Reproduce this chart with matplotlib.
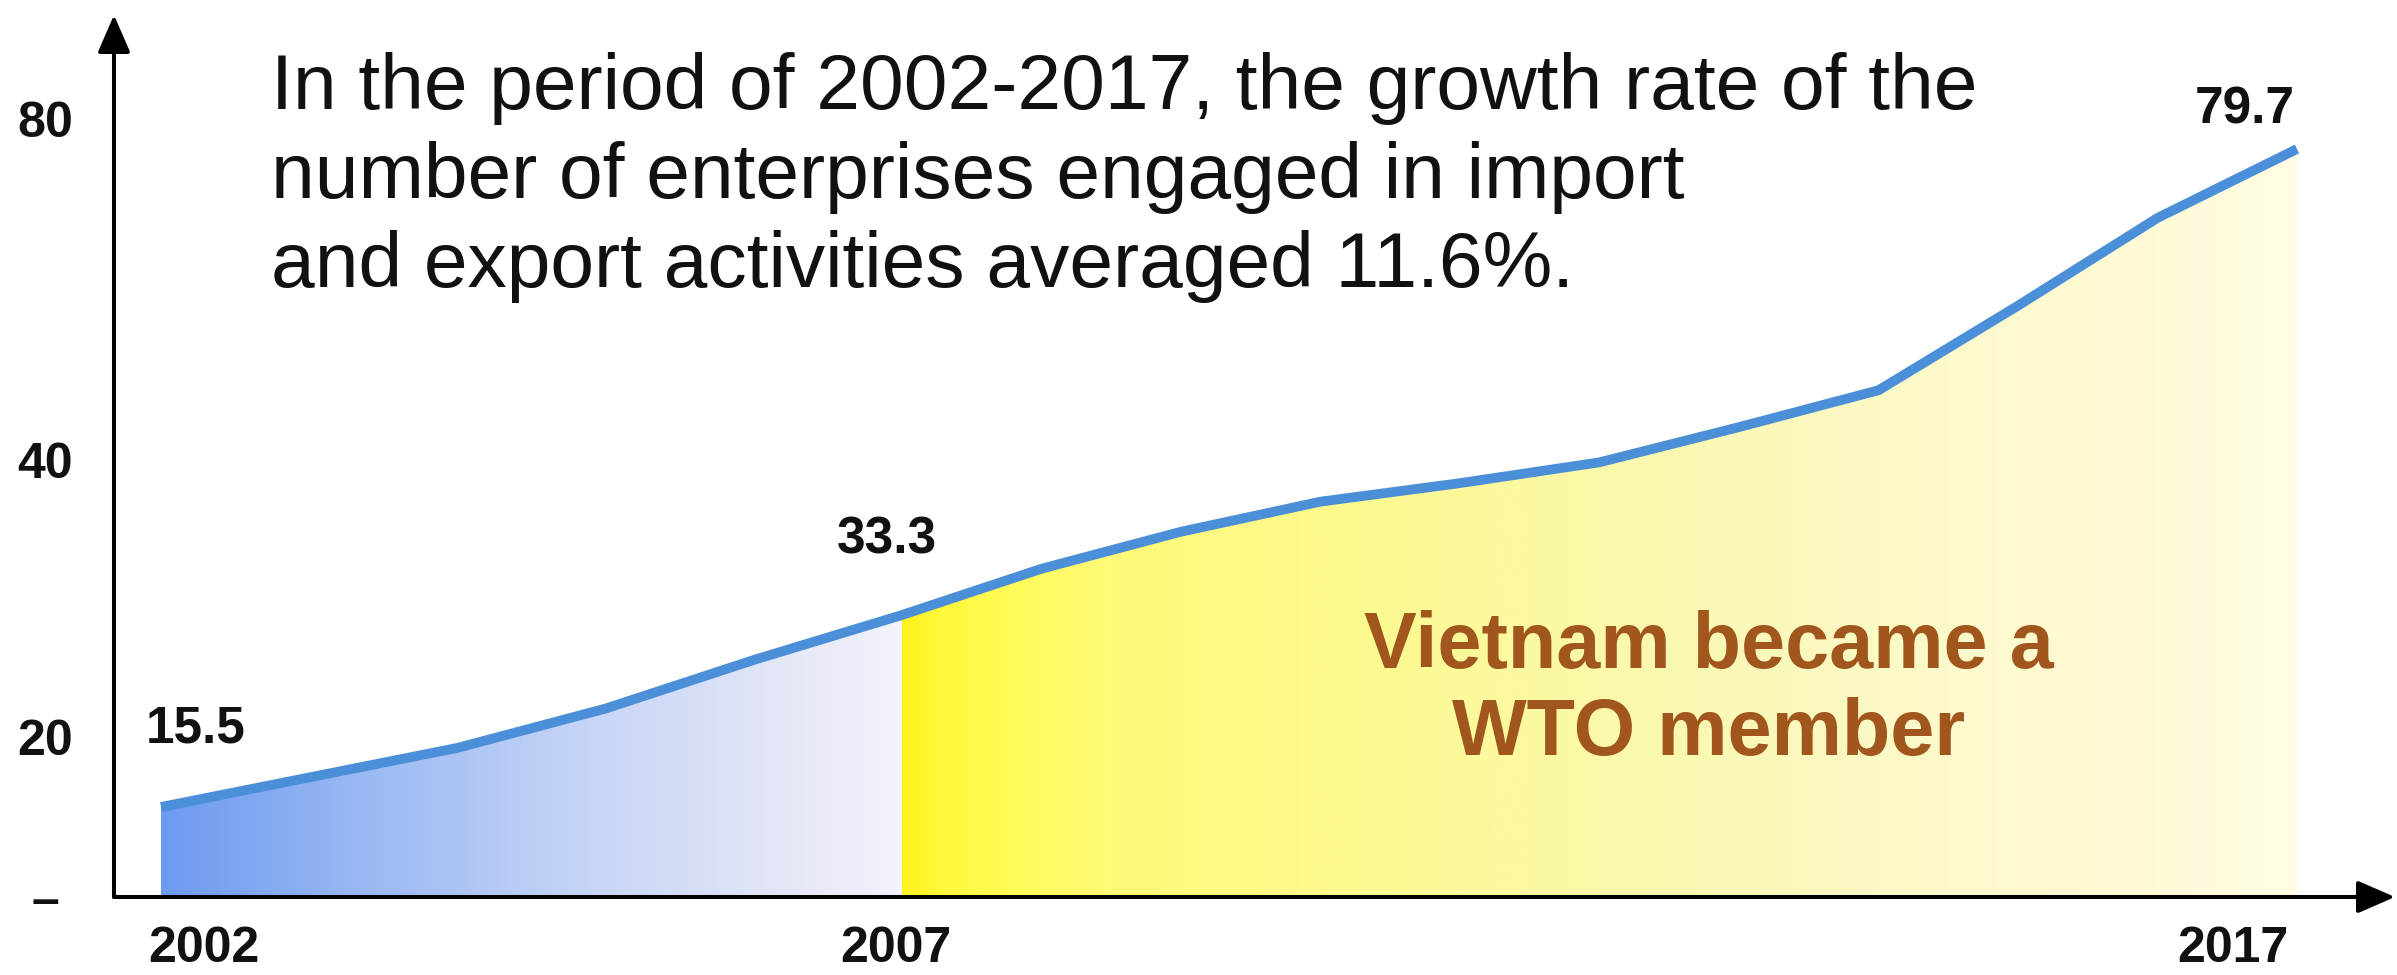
import numpy as np
import matplotlib
matplotlib.use("Agg")
import matplotlib.pyplot as plt
from matplotlib.transforms import ScaledTranslation
from matplotlib.colors import to_rgb

# ---------------- data ----------------
years = [2002, 2003, 2004, 2005, 2006, 2007, 2008, 2009, 2010,
         2011, 2012, 2013, 2014, 2015, 2016, 2017]
enterprises = [15.5, 17.4, 19.3, 23.1, 28.4, 33.3, 35.3, 36.9, 38.2,
               39.0, 39.9, 44.2, 48.9, 59.7, 70.9, 79.7]   # thousand enterprises
labeled_years = [2002, 2007, 2017]
labeled_values = [15.5, 33.3, 79.7]
x_ticks = [2002, 2007, 2017]
x_tick_labels = ["2002", "2007", "2017"]
y_ticks = [0, 20, 40, 80]
y_tick_labels = ["\u2013", "20", "40", "80"]
wto_year = 2007
title_lines = ["In the period of 2002-2017, the growth rate of the",
               "number of enterprises engaged in import",
               "and export activities averaged 11.6%."]
wto_lines = ["Vietnam became a", "WTO member"]

# ---------------- schematic axis scales (piecewise, as drawn) ----------------
Y_SCALE_VALUES = [-100, 0, 15.5, 20, 33.3, 40, 79.7, 80, 200]
Y_SCALE_PIX = [-1000, 0, 90, 160, 282, 437, 748, 778, 1718]
X_SCALE_YEARS = [1990, 2002, 2007, 2017, 2030]
X_SCALE_PIX = [47 - 12 * 148.2, 47, 788, 2183, 2183 + 13 * 139.5]

def y_fwd(v):
    return np.interp(np.asarray(v, float), Y_SCALE_VALUES, Y_SCALE_PIX)

def y_inv(p):
    return np.interp(np.asarray(p, float), Y_SCALE_PIX, Y_SCALE_VALUES)

def x_fwd(v):
    return np.interp(np.asarray(v, float), X_SCALE_YEARS, X_SCALE_PIX)

def x_inv(p):
    return np.interp(np.asarray(p, float), X_SCALE_PIX, X_SCALE_YEARS)

plt.rcParams["font.family"] = ["Liberation Sans", "DejaVu Sans"]

W, H = 2397, 975
fig = plt.figure(figsize=(W / 100, H / 100), dpi=100)
ax_left, ax_bottom, ax_w, ax_h = 114, 78, 2281, 882
ax = fig.add_axes([ax_left / W, ax_bottom / H, ax_w / W, ax_h / H])
ax.set_xscale("function", functions=(x_fwd, x_inv))
ax.set_yscale("function", functions=(y_fwd, y_inv))

# ---------------- gradient fills under the curve ----------------
yrs = np.array(years)
vals = np.array(enterprises)

def gradient_image(stops, n=600):
    pos = np.array([s[0] for s in stops])
    cols = np.array([to_rgb(s[1]) for s in stops])
    t = np.linspace(0, 1, n)
    img = np.stack([np.interp(t, pos, cols[:, k]) for k in range(3)], axis=-1)
    return np.repeat(img[None, :, :], 2, axis=0)

left_stops = [(0.0, "#6c9af0"), (0.25, "#97b6f3"), (0.55, "#c3d3f6"),
              (0.8, "#e0e4f7"), (1.0, "#f4f3fa")]
right_stops = [(0.0, "#fff21e"), (0.03, "#fff83c"), (0.08, "#fffc5a"),
               (0.15, "#fffa78"), (0.3, "#fdf98c"), (0.45, "#fcf9a2"),
               (0.6, "#f9f8b8"), (0.75, "#fcfacb"), (0.9, "#fffbd8"),
               (1.0, "#fffde4")]

ax.set_xlim(x_inv(0), x_inv(ax_w))
ax.set_ylim(0, y_inv(ax_h))

segments = [(yrs <= wto_year, left_stops), (yrs >= wto_year, right_stops)]
for mask, stops in segments:
    xs, ys = yrs[mask], vals[mask]
    poly = ax.fill_between(xs, 0, ys, facecolor="none", edgecolor="none")
    f0 = x_fwd(xs[0]) / ax_w
    f1 = x_fwd(xs[-1]) / ax_w
    im = ax.imshow(gradient_image(stops), extent=[f0, f1, 0, 1],
                   transform=ax.transAxes, aspect="auto",
                   interpolation="bilinear", zorder=1)
    im.set_clip_path(poly.get_paths()[0], ax.transData)

ax.set_xlim(x_inv(0), x_inv(ax_w))
ax.set_ylim(0, y_inv(ax_h))

# ---------------- curve ----------------
ax.plot(yrs, vals, color="#4a8fd8", lw=7, solid_capstyle="butt",
        solid_joinstyle="round", zorder=3)

# ---------------- value labels ----------------
label_offsets = [(35, 78), (-15, 75), (-52, 39)]
for yr, v, off in zip(labeled_years, labeled_values, label_offsets):
    ax.annotate(f"{v:.1f}", xy=(yr, v), xytext=off, textcoords="offset pixels",
                ha="center", va="center", fontsize=37, fontweight="bold",
                color="#111111", zorder=4)

# ---------------- axes with arrows ----------------
for s in ax.spines.values():
    s.set_visible(False)
arrow_kw = dict(arrowstyle="-|>,head_length=1.15,head_width=0.5",
                mutation_scale=20, lw=2.9, color="black",
                shrinkA=0, shrinkB=0)
ax.annotate("", xy=(0, 1), xytext=(0, 0), xycoords="axes fraction",
            arrowprops=arrow_kw, annotation_clip=False, zorder=5)
ax.annotate("", xy=(1, 0), xytext=(0, 0), xycoords="axes fraction",
            arrowprops=arrow_kw, annotation_clip=False, zorder=5)

# ticks
ax.set_yticks(y_ticks)
ax.set_yticklabels(y_tick_labels, fontsize=36, fontweight="bold", color="#111111")
ax.tick_params(axis="y", length=0, pad=49.7)
for lab in ax.get_yticklabels():
    lab.set_horizontalalignment("center")

ax.set_xticks(x_ticks)
ax.set_xticklabels(x_tick_labels, fontsize=36, fontweight="bold", color="#111111")
ax.tick_params(axis="x", length=0, pad=21)
x_label_shift = [43, -6, -64]
for lab, dx in zip(ax.get_xticklabels(), x_label_shift):
    lab.set_transform(lab.get_transform() + ScaledTranslation(dx / 100, 0, fig.dpi_scale_trans))

ax.minorticks_off()

# ---------------- texts ----------------
title_baselines = [109, 198, 287]
for line, yb in zip(title_lines, title_baselines):
    fig.text(271 / W, 1 - yb / H, line, fontsize=56.5, color="#111111",
             ha="left", va="baseline")

wto_baselines = [668, 755]
for line, yb in zip(wto_lines, wto_baselines):
    fig.text(1709 / W, 1 - yb / H, line, fontsize=57, fontweight="bold",
             color="#a0561c", ha="center", va="baseline")

fig.savefig("out.png", dpi=100, facecolor="white")
